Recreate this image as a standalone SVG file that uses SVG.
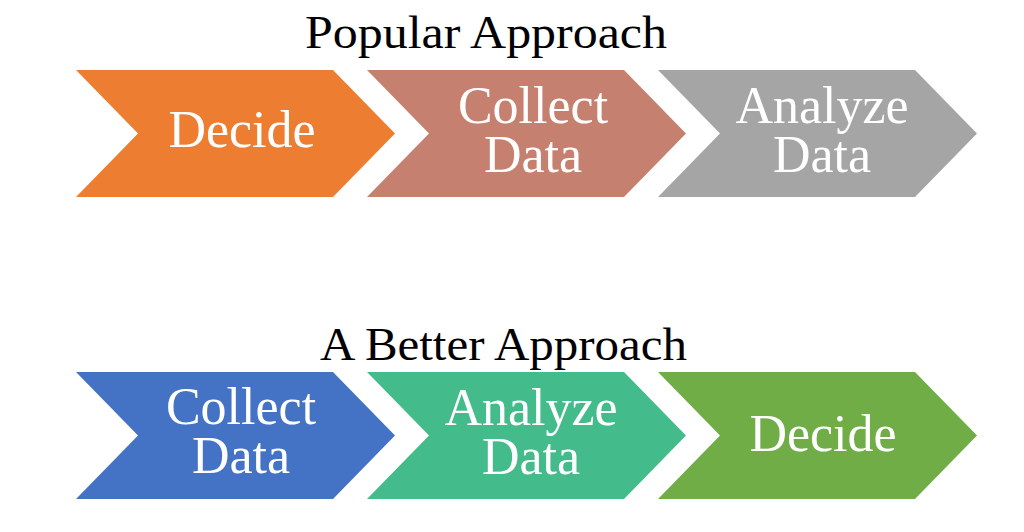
<svg xmlns="http://www.w3.org/2000/svg" width="1024" height="532" viewBox="0 0 1024 532">
<defs>
<style>
.title{font-family:"Liberation Serif","DejaVu Serif",serif;font-size:46px;fill:#000;text-anchor:middle}
.lbl{font-family:"Liberation Serif","DejaVu Serif",serif;font-size:52px;fill:#fff;text-anchor:middle}
</style>
<path id="chev" d="M0,0 H257 L319,63.5 L257,127 H0 L62,63.5 Z"/>
</defs>
<rect width="1024" height="532" fill="#fff"/>
<text class="title" x="486" y="48" textLength="362" lengthAdjust="spacingAndGlyphs">Popular Approach</text>
<text class="title" x="503.5" y="360" textLength="367" lengthAdjust="spacingAndGlyphs">A Better Approach</text>
<g id="connectors"></g>
<g id="top-decide">
<use href="#chev" x="76" y="70" fill="#ED7D31"/>
<text class="lbl" x="242" y="147">Decide</text>
</g>
<g id="top-collect">
<use href="#chev" x="367" y="70" fill="#C5806F"/>
<text class="lbl" x="533" y="123">Collect</text>
<text class="lbl" x="533" y="172">Data</text>
</g>
<g id="top-analyze">
<use href="#chev" x="658" y="70" fill="#A5A5A5"/>
<text class="lbl" x="822" y="123">Analyze</text>
<text class="lbl" x="822" y="172">Data</text>
</g>
<g id="bottom-collect">
<use href="#chev" x="76" y="372" fill="#4472C4"/>
<text class="lbl" x="241" y="424">Collect</text>
<text class="lbl" x="241" y="473">Data</text>
</g>
<g id="bottom-analyze">
<use href="#chev" x="367" y="372" fill="#44BB8B"/>
<text class="lbl" x="531" y="425">Analyze</text>
<text class="lbl" x="531" y="474">Data</text>
</g>
<g id="bottom-decide">
<use href="#chev" x="658" y="372" fill="#70AD47"/>
<text class="lbl" x="823" y="451">Decide</text>
</g>
</svg>
